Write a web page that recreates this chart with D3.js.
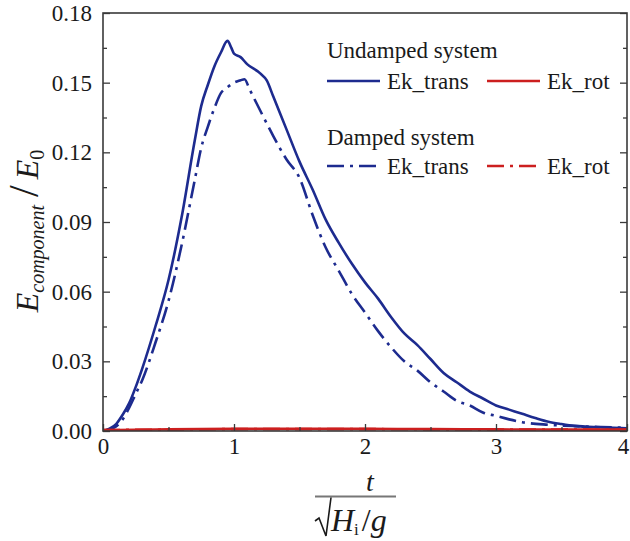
<!DOCTYPE html>
<html>
<head>
<meta charset="utf-8">
<script src="https://cdn.jsdelivr.net/npm/d3@7"></script>
<style>
  body { margin: 0; background: #fff; }
  svg, svg text { font-family: "Liberation Serif", "Times New Roman", Times, "DejaVu Serif", "Noto Serif", serif; }
</style>
</head>
<body>
<div id="chart"></div>
<script>
// chart values
const undampedT     = [0, 0.05, 0.1, 0.15, 0.2, 0.25, 0.3, 0.4, 0.5, 0.6, 0.7, 0.75, 0.8, 0.85, 0.9, 0.95, 0.98, 1.0, 1.05, 1.1, 1.2, 1.25, 1.3, 1.4, 1.5, 1.6, 1.7, 1.8, 1.9, 2.0, 2.1, 2.2, 2.3, 2.4, 2.5, 2.6, 2.7, 2.8, 2.9, 3.0, 3.1, 3.2, 3.3, 3.4, 3.5, 3.6, 3.8, 4.0];
const undampedTrans = [0, 0.001, 0.003, 0.007, 0.012, 0.019, 0.027, 0.045, 0.065, 0.092, 0.125, 0.140, 0.149, 0.157, 0.163, 0.168, 0.165, 0.1625, 0.161, 0.158, 0.154, 0.151, 0.144, 0.130, 0.116, 0.104, 0.091, 0.081, 0.072, 0.064, 0.057, 0.049, 0.042, 0.037, 0.031, 0.025, 0.021, 0.017, 0.014, 0.011, 0.0092, 0.0074, 0.0056, 0.0040, 0.0030, 0.0022, 0.0016, 0.0012];

const dampedT       = [0, 0.1, 0.15, 0.2, 0.25, 0.3, 0.4, 0.5, 0.6, 0.7, 0.75, 0.8, 0.85, 0.9, 0.95, 1.0, 1.05, 1.08, 1.12, 1.2, 1.3, 1.4, 1.5, 1.6, 1.7, 1.8, 1.9, 2.0, 2.1, 2.2, 2.3, 2.4, 2.5, 2.6, 2.7, 2.8, 2.9, 3.0, 3.1, 3.2, 3.4, 3.6, 3.8, 4.0];
const dampedTrans   = [0, 0.002, 0.005, 0.010, 0.016, 0.022, 0.038, 0.056, 0.080, 0.108, 0.122, 0.131, 0.139, 0.1455, 0.148, 0.150, 0.151, 0.1515, 0.147, 0.138, 0.127, 0.117, 0.109, 0.093, 0.079, 0.069, 0.059, 0.051, 0.043, 0.036, 0.030, 0.026, 0.021, 0.017, 0.013, 0.011, 0.008, 0.0065, 0.005, 0.0038, 0.0027, 0.0021, 0.0017, 0.0014];

const rotT          = [0, 0.25, 0.5, 1.0, 1.5, 2.0, 2.5, 3.0, 3.5, 4.0];
const undampedRot   = [0.0004, 0.0005, 0.0007, 0.0009, 0.0010, 0.0009, 0.0008, 0.0007, 0.0006, 0.0006];
const dampedRot     = [0.0004, 0.0005, 0.0006, 0.0008, 0.0008, 0.0008, 0.0007, 0.0006, 0.0006, 0.0005];

const xTicks = [0, 1, 2, 3, 4];
const yTicks = [0, 0.03, 0.06, 0.09, 0.12, 0.15, 0.18];

const width = 630, height = 541;
const margin = {left: 103, right: 3, top: 13, bottom: 110};

const C = {
  blue: '#1d2b8f',
  red: '#cc1f1f',
  axis: '#3a3a3a',
  text: '#1a1a1a',
  font: '"Liberation Serif", "Times New Roman", Times, "DejaVu Serif", serif',
  lineWidth: 2.6,
  dashDot: '17,6,3,6',
  major: 7,
  minor: 4,
};

const svg = d3.select('#chart').append('svg')
  .attr('width', width)
  .attr('height', height)
  .attr('font-family', C.font);

const X = d3.scaleLinear().domain([0, 4]).range([margin.left, width - margin.right]);
const Y = d3.scaleLinear().domain([0, 0.18]).range([height - margin.bottom, margin.top]);

const pw = X.range()[1] - X.range()[0];
const ph = Y.range()[0] - Y.range()[1];

svg.append('clipPath').attr('id', 'plot-clip')
  .append('rect')
  .attr('x', X.range()[0]).attr('y', Y.range()[1])
  .attr('width', pw).attr('height', ph);

// series
const zipUp = (ts, vs) => ts.map((t, i) => ({t: t, v: vs[i]}));
const line = d3.line().x(d => X(d.t)).y(d => Y(d.v)).curve(d3.curveMonotoneX);

const series = [
  {data: zipUp(undampedT, undampedTrans), color: C.blue, dash: null},
  {data: zipUp(dampedT, dampedTrans), color: C.blue, dash: C.dashDot},
  {data: zipUp(rotT, dampedRot), color: C.red, dash: C.dashDot},
  {data: zipUp(rotT, undampedRot), color: C.red, dash: null},
];

const plot = svg.append('g').attr('clip-path', 'url(#plot-clip)');
plot.selectAll('path.series')
  .data(series)
  .join('path')
  .attr('class', 'series')
  .attr('d', d => line(d.data))
  .attr('fill', 'none')
  .attr('stroke', d => d.color)
  .attr('stroke-width', C.lineWidth)
  .attr('stroke-linejoin', 'round')
  .attr('stroke-dasharray', d => d.dash);

// axes: ticks pointing inward, labels outside
svg.append('g')
  .attr('transform', `translate(0,${Y.range()[0]})`)
  .call(d3.axisBottom(X).tickValues(xTicks).tickSizeInner(-C.major).tickSizeOuter(0).tickPadding(7).tickFormat(d3.format('d')))
  .call(g => g.selectAll('.tick text').filter(d => d === 4).attr('dx', -4));

svg.append('g')
  .attr('transform', `translate(0,${Y.range()[0]})`)
  .call(d3.axisBottom(X).tickValues(d3.range(0.5, 4, 1)).tickSizeInner(-C.minor).tickSizeOuter(0).tickFormat(''));

svg.append('g')
  .attr('transform', `translate(${X.range()[0]},0)`)
  .call(d3.axisLeft(Y).tickValues(yTicks).tickSizeInner(-C.major).tickSizeOuter(0).tickPadding(11).tickFormat(d3.format('.2f')));

svg.append('g')
  .attr('transform', `translate(${X.range()[0]},0)`)
  .call(d3.axisLeft(Y).tickValues(d3.range(0.015, 0.18, 0.03)).tickSizeInner(-C.minor).tickSizeOuter(0).tickFormat(''));

svg.append('g')
  .attr('transform', `translate(${X.range()[1]},0)`)
  .call(d3.axisRight(Y).tickValues(yTicks).tickSizeInner(-C.major).tickSizeOuter(0).tickFormat(''));

svg.append('g')
  .attr('transform', `translate(${X.range()[1]},0)`)
  .call(d3.axisRight(Y).tickValues(d3.range(0.015, 0.18, 0.03)).tickSizeInner(-C.minor).tickSizeOuter(0).tickFormat(''));

svg.selectAll('.domain').remove();
svg.selectAll('g[font-family]').attr('font-family', C.font);
svg.selectAll('.tick line').attr('stroke', C.axis).attr('stroke-width', 1.3);
svg.selectAll('.tick text')
  .attr('fill', C.text)
  .attr('font-size', 23);

// frame
svg.append('rect')
  .attr('x', X.range()[0]).attr('y', Y.range()[1])
  .attr('width', pw).attr('height', ph)
  .attr('fill', 'none')
  .attr('stroke', C.axis)
  .attr('stroke-width', 1.6);

// legend
const legend = svg.append('g').attr('fill', C.text).attr('font-size', 23);

const legendRows = [
  {title: 'Undamped system', titleY: 58, rowY: 81, dash: null},
  {title: 'Damped system', titleY: 145, rowY: 166, dash: C.dashDot},
];

legendRows.forEach(row => {
  legend.append('text').attr('x', 327).attr('y', row.titleY).text(row.title);
  [{x0: 327, color: C.blue, label: 'Ek_trans'}, {x0: 487, color: C.red, label: 'Ek_rot'}].forEach(item => {
    legend.append('line')
      .attr('x1', item.x0).attr('x2', item.x0 + 53)
      .attr('y1', row.rowY).attr('y2', row.rowY)
      .attr('stroke', item.color)
      .attr('stroke-width', C.lineWidth)
      .attr('stroke-dasharray', row.dash);
    legend.append('text')
      .attr('x', item.x0 + 60).attr('y', row.rowY + 8)
      .text(item.label);
  });
});

// y axis title: E_component / E_0
const yTitle = svg.append('text')
  .attr('transform', 'translate(38,231) rotate(-90)')
  .attr('text-anchor', 'middle')
  .attr('fill', C.text)
  .attr('font-style', 'italic');
yTitle.append('tspan').attr('font-size', 32).text('E');
yTitle.append('tspan').attr('font-size', 20).attr('dy', 6).text('component');
yTitle.append('tspan').attr('font-size', 42).attr('font-style', 'normal').attr('dy', -6).attr('dx', 8).text('/');
yTitle.append('tspan').attr('font-size', 32).attr('dx', 6).text('E');
yTitle.append('tspan').attr('font-size', 20).attr('font-style', 'normal').attr('dy', 6).text('0');

// x axis title: t / sqrt(H_i / g)
svg.append('text')
  .attr('x', 370).attr('y', 491)
  .attr('text-anchor', 'middle')
  .attr('fill', C.text)
  .attr('font-style', 'italic')
  .attr('font-size', 28)
  .text('t');

svg.append('line')
  .attr('x1', 315).attr('x2', 396)
  .attr('y1', 496.5).attr('y2', 496.5)
  .attr('stroke', '#777')
  .attr('stroke-width', 2.2);

svg.append('path')
  .attr('d', 'M315,521 L319,518 L326,536 L331,497.5')
  .attr('fill', 'none')
  .attr('stroke', C.text)
  .attr('stroke-width', 1.6)
  .attr('stroke-linejoin', 'miter');

const xTitle = svg.append('text')
  .attr('x', 331).attr('y', 531)
  .attr('fill', C.text)
  .attr('font-style', 'italic');
xTitle.append('tspan').attr('font-size', 32).text('H');
xTitle.append('tspan').attr('font-size', 17).attr('font-style', 'normal').attr('dy', 4).text('i');
xTitle.append('tspan').attr('font-size', 32).attr('font-style', 'normal').attr('dy', -4).attr('dx', 3).text('/');
xTitle.append('tspan').attr('font-size', 32).text('g');
</script>
</body>
</html>
